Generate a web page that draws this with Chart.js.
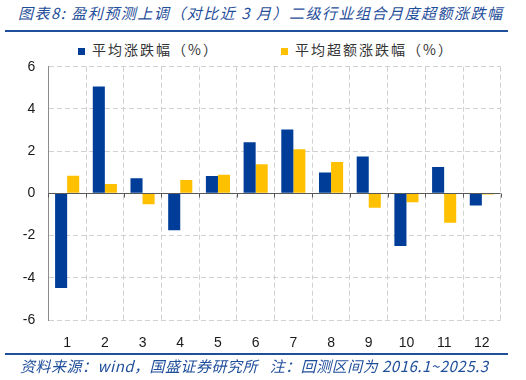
<!DOCTYPE html>
<html><head><meta charset="utf-8">
<script src="https://cdn.jsdelivr.net/npm/chart.js@4/dist/chart.umd.min.js"></script>
<style>
html,body{margin:0;padding:0;background:#fff}
body{width:526px;height:380px;overflow:hidden;position:relative;font-family:"Noto Sans CJK SC","Noto Sans",sans-serif}
#title{position:absolute;left:18px;top:3px;font-size:15px;font-style:italic;color:#1F4E9A;letter-spacing:1.5px;white-space:nowrap;line-height:20px}
#tline{position:absolute;left:5px;top:30px;width:503px;height:2px;background:#1F4E9A}
#fline{position:absolute;left:5px;top:353px;width:503px;height:2px;background:#1F4E9A}
#footer{position:absolute;left:20px;top:356px;font-size:15px;font-style:italic;color:#1F4E9A;white-space:nowrap;line-height:20px;letter-spacing:0.5px}
.lg{position:absolute;top:40px;font-size:14px;color:#333;white-space:nowrap;line-height:18px;letter-spacing:2px}
.lg i{display:inline-block;width:7px;height:7px;margin-right:7px;vertical-align:0px}
canvas{position:absolute;left:0;top:0}
</style>
</head><body>
<div id="title">图表8:&nbsp;盈利预测上调（对比近&nbsp;3&nbsp;月）二级行业组合月度超额涨跌幅</div>
<div id="tline"></div>
<div class="lg" style="left:78px"><i style="background:#003D99"></i>平均涨跌幅（%）</div>
<div class="lg" style="left:281px"><i style="background:#FFC000"></i>平均超额涨跌幅（%）</div>
<canvas id="c" width="526" height="380"></canvas>
<div id="fline"></div>
<div id="footer">资料来源：wind，国盛证券研究所&nbsp;&nbsp;&nbsp;注：回测区间为 2016.1~2025.3</div>
<script>
const months = ['1','2','3','4','5','6','7','8','9','10','11','12'];
const avgReturn = [-4.48, 5.06, 0.71, -1.75, 0.82, 2.42, 3.02, 0.99, 1.75, -2.50, 1.25, -0.58];
const avgExcess = [0.83, 0.44, -0.52, 0.63, 0.88, 1.38, 2.09, 1.48, -0.68, -0.42, -1.39, -0.05];
const seriesNames = ['平均涨跌幅（%）', '平均超额涨跌幅（%）'];
const yTicks = [-6, -4, -2, 0, 2, 4, 6];

const zeroLine = {
  id: 'zeroLine',
  afterDatasetsDraw(chart) {
    const {ctx, chartArea, scales: {x, y}} = chart;
    const y0 = Math.round(y.getPixelForValue(0)) + 0.5;
    ctx.save();
    ctx.strokeStyle = '#595959';
    ctx.lineWidth = 1;
    ctx.beginPath();
    ctx.moveTo(chartArea.left, y0);
    ctx.lineTo(chartArea.right, y0);
    const n = months.length;
    for (let i = 0; i <= n; i++) {
      const xp = Math.round(chartArea.left + (chartArea.right - chartArea.left) * i / n) + 0.5;
      ctx.moveTo(xp, y0);
      ctx.lineTo(xp, y0 + 4);
    }
    ctx.stroke();
    ctx.restore();
  }
};

new Chart(document.getElementById('c'), {
  type: 'bar',
  data: {
    labels: months,
    datasets: [
      {label: seriesNames[0], data: avgReturn, backgroundColor: '#003D99', categoryPercentage: 0.64, barPercentage: 1.0},
      {label: seriesNames[1], data: avgExcess, backgroundColor: '#FFC000', categoryPercentage: 0.64, barPercentage: 1.0}
    ]
  },
  options: {
    responsive: false,
    animation: false,
    layout: {padding: {top: 66.7, right: 25.3, bottom: 30, left: 0}},
    plugins: {legend: {display: false}, tooltip: {enabled: false}},
    scales: {
      x: {
        afterFit(s) { s.height = 30; },
        grid: {offset: true, drawTicks: false, color: '#d0d0d0', lineWidth: 1},
        border: {display: false, dash: [5, 3]},
        ticks: {padding: 15, color: '#1a1a1a', font: {family: 'Liberation Sans', size: 14}}
      },
      y: {
        min: -6, max: 6,
        afterFit(s) { s.width = 48.3; },
        afterBuildTicks(s) { s.ticks = yTicks.map(v => ({value: v})); },
        grid: {drawTicks: false, color: (c) => (c.tick && c.tick.value === 0) ? 'rgba(0,0,0,0)' : '#d0d0d0', lineWidth: 1},
        border: {display: true, color: '#8c8c8c', dash: [5, 3], width: 1},
        ticks: {padding: 13, color: '#1a1a1a', font: {family: 'Liberation Sans', size: 14}}
      }
    }
  },
  plugins: [zeroLine]
});
</script>
</body></html>
